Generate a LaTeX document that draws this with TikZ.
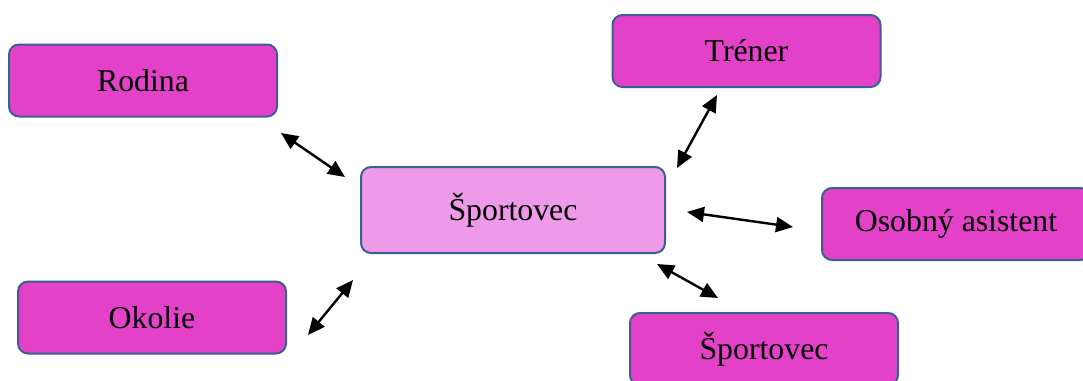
\documentclass[tikz,border=0pt]{standalone}
\usepackage{fontspec}
\setmainfont{Liberation Serif}
\usetikzlibrary{arrows.meta}
\definecolor{boxfill}{HTML}{E342C8}
\definecolor{centerfill}{HTML}{EE9AE8}
\definecolor{boxedge}{HTML}{3B5F92}
\tikzset{
  rolebox/.style={draw=boxedge, line width=2pt, fill=boxfill, rounded corners=10pt,
    minimum width=268pt, minimum height=72pt, inner sep=0pt,
    font=\fontsize{31.8}{38}\selectfont, text=black},
  mainbox/.style={rolebox, fill=centerfill, minimum width=304pt, minimum height=86pt},
  link/.style={line width=2.4pt, {Triangle[length=17pt,width=15pt]}-{Triangle[length=17pt,width=15pt]}}
}
\begin{document}
\begin{tikzpicture}[x=1pt,y=-1pt]
\clip (0,0) rectangle (1083,380);
\fill[white] (0,0) rectangle (1083,380);
\node[mainbox] (center) at (513,210) {Športovec};
\node[rolebox] (rodina) at (143,80.5) {Rodina};
\node[rolebox] (trener) at (746.5,51) {Tréner};
\node[rolebox] (asistent) at (956,224) {Osobný asistent};
\node[rolebox] (okolie) at (152,317.5) {Okolie};
\node[rolebox] (sportovec) at (764,349) {Športovec};
\coordinate (r1) at (281,133);
\coordinate (r2) at (345,177);
\coordinate (t1) at (717,95);
\coordinate (t2) at (677,168);
\coordinate (a1) at (687,212);
\coordinate (a2) at (793,227);
\coordinate (s1) at (657,264);
\coordinate (s2) at (718,298);
\coordinate (o1) at (353,280);
\coordinate (o2) at (308,335);
\draw[link] (r1) -- (r2);
\draw[link] (t1) -- (t2);
\draw[link] (a1) -- (a2);
\draw[link] (s1) -- (s2);
\draw[link] (o1) -- (o2);
\end{tikzpicture}
\end{document}
